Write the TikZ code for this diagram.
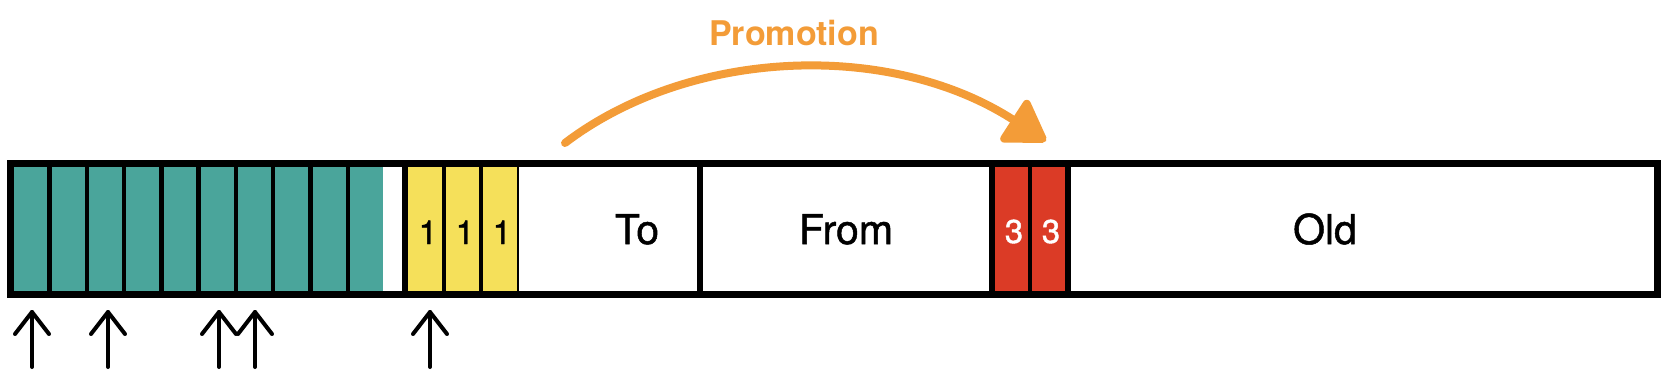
\documentclass[tikz,border=0pt]{standalone}
\usepackage{fontspec}
\setmainfont{TeX Gyre Heros}
\newfontfamily\medfont[FakeBold=1.2]{TeX Gyre Heros}
\usetikzlibrary{arrows.meta}
\definecolor{cteal}{HTML}{4AA59B}
\definecolor{cyellow}{HTML}{F5E05A}
\definecolor{cred}{HTML}{DB3B26}
\definecolor{corange}{HTML}{F39C38}
\tikzset{
  outerline/.style={draw=black,line width=7pt},
  thickdiv/.style={draw=black,line width=6.5pt},
  thindiv/.style={draw=black,line width=4.5pt},
  label/.style={anchor=base,inner sep=0pt,font=\medfont\fontsize{41}{41}\selectfont},
  num/.style={anchor=base,inner sep=0pt,font=\medfont\fontsize{33}{33}\selectfont},
  ptr/.style={draw=black,line width=4pt,line cap=round,line join=round},
  promo/.style={draw=corange,line width=8pt,line cap=round,-{Triangle[length=44pt,width=54pt,round]}}
}
\begin{document}
\begin{tikzpicture}[x=1pt,y=-1pt]
\useasboundingbox (0,0) rectangle (1668,386);
% fills
\fill[cteal] (10,163) rectangle (383,294);
\fill[cyellow] (405,163) rectangle (518,294);
\fill[cred] (992,163) rectangle (1068,294);
% dividers
\foreach \x in {49.5,86.8,124,161.3,198.6,235.9,273.2,310.5,347.8}
  \draw[thindiv] (\x,163) -- (\x,294);
\draw[thickdiv] (405,163) -- (405,294);
\draw[thindiv] (444,163) -- (444,294);
\draw[thindiv] (481,163) -- (481,294);
\draw[draw=black,line width=2pt] (518,163) -- (518,294);
\draw[thickdiv] (700,163) -- (700,294);
\draw[thickdiv] (992,163) -- (992,294);
\draw[thindiv] (1030,163) -- (1030,294);
\draw[thickdiv] (1068,163) -- (1068,294);
% outer frame
\draw[outerline] (10,163) rectangle (1657,294);
% texts
\node[num] (y1) at (428,244) {1};
\node[num] (y2) at (465,244) {1};
\node[num] (y3) at (502,244) {1};
\node[label] (to) at (637,244) {To};
\node[label] (from) at (846,244) {From};
\node[num,text=white] (r1) at (1014,243) {3};
\node[num,text=white] (r2) at (1051,243) {3};
\node[label] (old) at (1325,244) {Old};
\node[anchor=base,inner sep=0pt,text=corange,font=\fontsize{34}{34}\selectfont\bfseries] (promotion) at (794,45) {Promotion};
% promotion arrow
\coordinate (ps) at (565,143);
\coordinate (pe) at (1046,141);
\draw[promo] (ps) .. controls (690,48) and (890,40) .. (pe);
% pointers
\foreach \x [count=\i] in {32,108,219,255,430} {
  \coordinate (t\i) at (\x,312);
  \coordinate (b\i) at (\x,367);
  \coordinate (l\i) at (\x-17,334);
  \coordinate (r\i) at (\x+17,334);
  \draw[ptr] (b\i) -- (t\i);
  \draw[ptr] (l\i) -- (t\i) -- (r\i);
}
\end{tikzpicture}
\end{document}
